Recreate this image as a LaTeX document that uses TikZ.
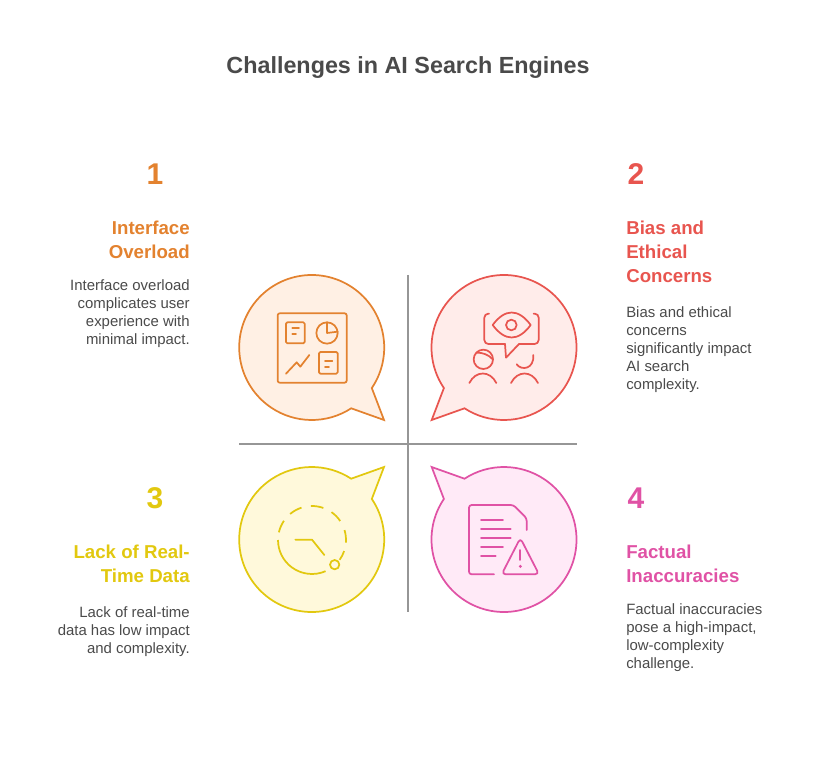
\documentclass[tikz,border=0pt]{standalone}
\usepackage{fontspec}
\setmainfont{Liberation Sans}
\usepackage{tikz}
\usetikzlibrary{positioning}

\definecolor{inkgray}{HTML}{4A4A4A}
\definecolor{axisgray}{HTML}{969696}
\definecolor{orangeline}{HTML}{E3822F}
\definecolor{orangefill}{HTML}{FFF0E4}
\definecolor{redline}{HTML}{E8554F}
\definecolor{redfill}{HTML}{FFECEA}
\definecolor{yellowline}{HTML}{E2C80F}
\definecolor{yellowfill}{HTML}{FFF9DB}
\definecolor{pinkline}{HTML}{E052A5}
\definecolor{pinkfill}{HTML}{FFEAF7}

\tikzset{
  titletext/.style={font=\bfseries\fontsize{17.5}{22}\selectfont, text=inkgray, inner sep=0pt},
  numtext/.style={font=\bfseries\fontsize{22.5}{28}\selectfont, inner sep=0pt},
  headleft/.style={font=\bfseries\fontsize{14}{18}\selectfont, align=right, anchor=north east, inner sep=0pt},
  headright/.style={font=\bfseries\fontsize{14}{18}\selectfont, align=left, anchor=north west, inner sep=0pt},
  bodyleft/.style={font=\fontsize{11.2}{13.5}\selectfont, text=inkgray, align=right, anchor=north east, inner sep=0pt},
  bodyright/.style={font=\fontsize{11.2}{13.5}\selectfont, text=inkgray, align=left, anchor=north west, inner sep=0pt},
  axisline/.style={draw=axisgray, line width=1.4pt},
  icon/.style={line width=1.3pt, line cap=round, line join=round},
  bubble/.style={line width=1.3pt, line join=miter}
}

% outline of one speech bubble, tail to the lower right before mirroring
\newcommand{\bubbleoutline}{(34:72.5) arc (34:-303:72.5) -- (72.3,72.5) -- cycle}

\begin{document}
\begin{tikzpicture}[x=0.75pt,y=-0.75pt]
  \useasboundingbox (0,0) rectangle (816,780);

  \node[titletext] (title) at (408,68) {Challenges in AI Search Engines};

  % axes
  \coordinate (axistop) at (408,275);
  \coordinate (axisbottom) at (408,612);
  \coordinate (axisleft) at (239,444);
  \coordinate (axisright) at (577,444);
  \draw[axisline] (axistop) -- (axisbottom);
  \draw[axisline] (axisleft) -- (axisright);

  % bubbles
  \filldraw[bubble, draw=orangeline, fill=orangefill, shift={(311.7,347.5)}] \bubbleoutline;
  \filldraw[bubble, draw=redline, fill=redfill, shift={(504,347.5)}, xscale=-1] \bubbleoutline;
  \filldraw[bubble, draw=yellowline, fill=yellowfill, shift={(311.7,539.5)}, yscale=-1] \bubbleoutline;
  \filldraw[bubble, draw=pinkline, fill=pinkfill, shift={(504,539.5)}, xscale=-1, yscale=-1] \bubbleoutline;

  % dashboard icon
  \begin{scope}[icon, draw=orangeline, shift={(230,265)}, scale=1/3]
    \draw[rounded corners=1.5pt] (143,145) rectangle (350,353);
    \draw[rounded corners=1pt] (168,172) rectangle (224,235);
    \draw (187,188) -- (207,188) (187,207) -- (198,207);
    \draw (291,204) circle (32);
    \draw (291,172) -- (291,204) -- (323,200);
    \draw (168,326) -- (200,292) -- (211,305) -- (238,270);
    \draw[rounded corners=1pt] (267,261) rectangle (323,326);
    \draw (285,288) -- (307,288) (285,307) -- (297,307);
  \end{scope}

  % eye and people icon
  \begin{scope}[icon, draw=redline, shift={(405,265)}, scale=1/3]
    \draw[rounded corners=3pt] (252,146) -- (238,146) -- (238,237) -- (300,237);
    \draw (300,237) -- (303,278) -- (342,237);
    \draw[rounded corners=3pt] (342,237) -- (401,237) -- (401,146) -- (386,146);
    \draw (263,180) .. controls (300,130) and (340,130) .. (377,180) .. controls (340,230) and (300,230) .. cycle;
    \draw (319,180) circle (16);
    \draw (235,283) circle (29);
    \draw (215,263) .. controls (232,262) and (252,270) .. (262,282);
    \draw (335,298) .. controls (350,318) and (388,312) .. (385,270);
    \draw (193,354) .. controls (212,316) and (255,316) .. (274,354);
    \draw (318,354) .. controls (337,316) and (380,316) .. (399,354);
  \end{scope}

  % clock icon
  \begin{scope}[icon, draw=yellowline, shift={(230,440)}, scale=1/3]
    \foreach \from/\to in {66.5/180, 19/35.6, -17/4.5, -55/-34, -92/-70.5, -130/-108, -167/-145.5}
      \draw[line cap=butt] (246,300) ++(\from:102) arc (\from:\to:102);
    \draw (196,299) -- (246,299) -- (283,345);
    \draw (314,374) circle (14);
  \end{scope}

  % document icon
  \begin{scope}[icon, draw=pinkline, shift={(405,440)}, scale=1/3]
    \draw[rounded corners=2pt] (267,403) -- (192,403) -- (192,195) -- (325,195) -- (365,235) -- (365,270);
    \foreach \ypos/\xend in {241/294, 268/317, 295/317, 322/294, 349/272}
      \draw (228,\ypos) -- (\xend,\ypos);
    \draw[rounded corners=3pt] (346,294) -- (290,403) -- (402,403) -- cycle;
    \draw (346,330) -- (346,360);
    \fill[pinkline] (346,379) circle (5);
  \end{scope}

  % texts
  \node[numtext, text=orangeline] (numone) at (155,174) {1};
  \node[headleft, text=orangeline] (headone) at (190,221) {Interface\\Overload};
  \node[bodyleft, below=15pt of headone.south east, anchor=north east] (bodyone) {Interface overload\\complicates user\\experience with\\minimal impact.};

  \node[numtext, text=redline] (numtwo) at (636,174) {2};
  \node[headright, text=redline] (headtwo) at (626,221) {Bias and\\Ethical\\Concerns};
  \node[bodyright, below=17.25pt of headtwo.south west, anchor=north west] (bodytwo) {Bias and ethical\\concerns\\significantly impact\\AI search\\complexity.};

  \node[numtext, text=yellowline] (numthree) at (155,498) {3};
  \node[headleft, text=yellowline] (headthree) at (190,545) {Lack of Real-\\Time Data};
  \node[bodyleft, below=17.25pt of headthree.south east, anchor=north east] (bodythree) {Lack of real-time\\data has low impact\\and complexity.};

  \node[numtext, text=pinkline] (numfour) at (636,498) {4};
  \node[headright, text=pinkline] (headfour) at (626,545) {Factual\\Inaccuracies};
  \node[bodyright, below=15pt of headfour.south west, anchor=north west] (bodyfour) {Factual inaccuracies\\pose a high-impact,\\low-complexity\\challenge.};
\end{tikzpicture}
\end{document}
